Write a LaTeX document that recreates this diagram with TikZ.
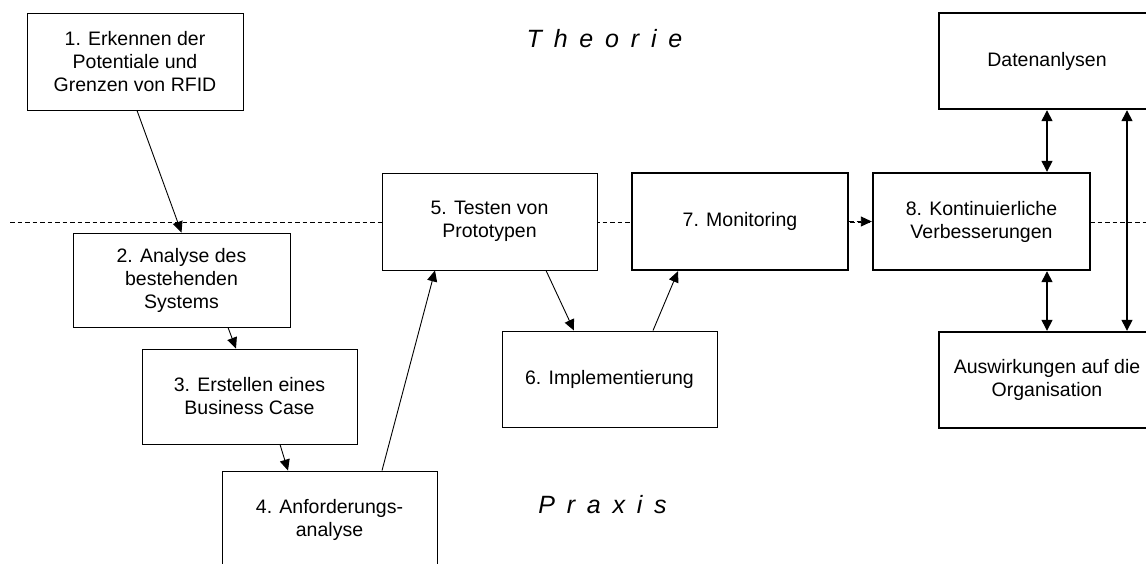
\documentclass[tikz,border=0pt]{standalone}
\usepackage{fontspec}
\setmainfont{Liberation Sans}
\usetikzlibrary{arrows.meta}
\begin{document}
\begin{tikzpicture}[x=1pt,y=-1pt,
  stepbox/.style={draw, fill=white, line width=0.9pt, minimum width=215pt,
    minimum height=96pt, inner sep=0pt, align=center,
    font=\fontsize{19.5}{23}\selectfont},
  keybox/.style={stepbox, line width=2.4pt},
  arr/.style={line width=0.9pt, -{Triangle[length=11pt,width=10pt]}},
  dblarr/.style={line width=1.4pt,
    {Triangle[length=11pt,width=11pt]}-{Triangle[length=11pt,width=11pt]}},
  level/.style={inner sep=0pt, font=\fontsize{25}{30}\selectfont\itshape}]

\clip (0,0) rectangle (1146,563);
\fill[white] (0,0) rectangle (1146,563);

% border between theory and practice
\coordinate (borderL) at (10,222);
\coordinate (borderR) at (1146,222);
\draw[line width=0.9pt, dash pattern=on 4.5pt off 3pt] (borderL) -- (borderR);

% level labels
\node[level] (theorie) at (604.5,39) {\spaceskip=11.8pt\relax T h e o r i e};
\node[level] (praxis) at (602.5,504.5) {\spaceskip=11.8pt\relax P r a x i s};

% process steps
\node[stepbox, minimum width=216pt, minimum height=97pt] (b1) at (135,61.5)
  {1. Erkennen der\\Potentiale und\\Grenzen von RFID};
\node[stepbox, minimum width=217pt, minimum height=94pt] (b2) at (181.5,280)
  {2. Analyse des\\bestehenden\\Systems};
\node[stepbox, minimum height=95pt] (b3) at (249.5,396.5)
  {3. Erstellen eines\\Business Case};
\node[stepbox, minimum height=97pt] (b4) at (329.5,519.5)
  {4. Anforderungs-\\analyse};
\node[stepbox, minimum height=97pt] (b5) at (489.5,221.5)
  {5. Testen von\\Prototypen};
\node[stepbox] (b6) at (609.5,379)
  {6. Implementierung};
\node[keybox, minimum width=216pt, minimum height=97pt] (b7) at (740,221.5)
  {7. Monitoring};
\node[keybox, minimum width=217pt, minimum height=97pt] (b8) at (981.5,221.5)
  {8. Kontinuierliche\\Verbesserungen};
\node[keybox, minimum width=216pt] (bD) at (1047,61)
  {Datenanlysen};
\node[keybox, minimum width=216pt] (bA) at (1047,380)
  {Auswirkungen auf die\\Organisation};

% flow between the steps
\draw[arr] ([xshift=2pt]b1.south) -- (b2.north);
\draw[arr] ([xshift=46.5pt]b2.south) -- ([xshift=-13.5pt]b3.north);
\draw[arr] ([xshift=30.5pt]b3.south) -- ([xshift=-41.5pt]b4.north);
\draw[arr] ([xshift=52.5pt]b4.north) -- ([xshift=-54.5pt]b5.south);
\draw[arr] ([xshift=56.5pt]b5.south) -- ([xshift=-35.5pt]b6.north);
\draw[arr] ([xshift=43.5pt]b6.north) -- ([xshift=-62pt]b7.south);
\draw[arr, dash pattern=on 4.5pt off 3pt] (b7.east) -- (b8.west);

% feedback between improvement, analysis and impact
\draw[dblarr] (bD.south) -- ([xshift=65.5pt]b8.north);
\draw[dblarr] ([xshift=65.5pt]b8.south) -- (bA.north);
\draw[dblarr] ([xshift=80pt]bD.south) -- ([xshift=80pt]bA.north);
\end{tikzpicture}
\end{document}
